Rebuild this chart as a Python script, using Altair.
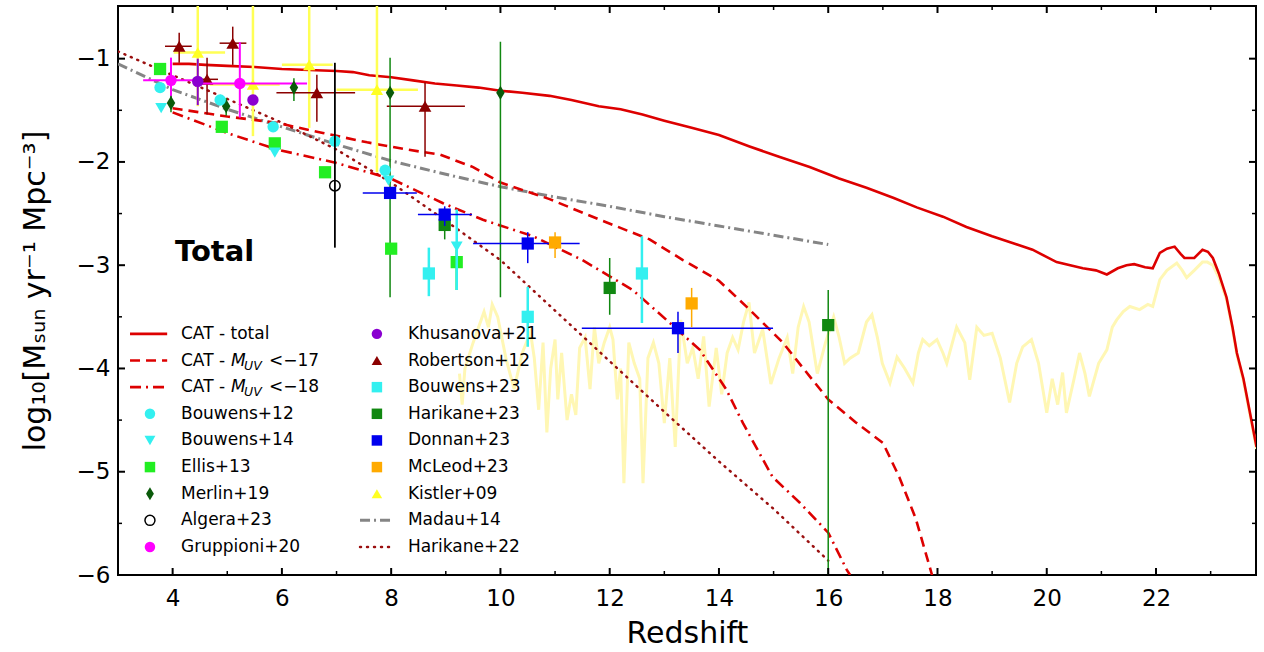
import altair as alt
import pandas as pd

# ---------------- axis ranges / ticks ----------------
X_DOMAIN = [3.0, 23.83]
Y_DOMAIN = [-6.0, -0.49]
X_MAJOR = [4, 6, 8, 10, 12, 14, 16, 18, 20, 22]
X_MINOR = [5, 7, 9, 11, 13, 15, 17, 19, 21, 23]
Y_MAJOR = [-6, -5, -4, -3, -2, -1]
Y_MINOR = [-5.5, -4.5, -3.5, -2.5, -1.5]

# ---------------- model curves ----------------
cat_total_z = [4.0, 4.3, 4.6, 5.0, 5.5, 6.0, 6.5, 7.0, 7.3, 7.6, 8.0, 8.4, 8.8, 9.2, 9.6, 10.0, 10.4, 10.9, 11.3, 11.8,
               12.2, 12.6, 13.0, 13.5, 14.0, 14.56, 15.1, 15.66, 16.2, 16.7, 17.2, 17.62, 18.1, 18.53, 19.0, 19.4,
               19.74, 20.18, 20.66, 20.9, 21.1, 21.3, 21.46, 21.6, 21.8, 21.94, 22.07, 22.2, 22.34, 22.45, 22.52,
               22.7, 22.85, 22.95, 23.04, 23.15, 23.29, 23.4, 23.48, 23.6, 23.84]
cat_total_sfr = [-1.05, -1.05, -1.06, -1.07, -1.08, -1.10, -1.11, -1.12, -1.13, -1.16, -1.18, -1.21, -1.24, -1.26,
                 -1.28, -1.31, -1.33, -1.36, -1.40, -1.46, -1.49, -1.54, -1.60, -1.67, -1.74, -1.85, -1.95, -2.05,
                 -2.16, -2.25, -2.35, -2.44, -2.53, -2.63, -2.72, -2.79, -2.85, -2.97, -3.03, -3.05, -3.09, -3.03,
                 -3.00, -2.99, -3.02, -3.03, -2.88, -2.84, -2.82, -2.89, -2.93, -2.93, -2.85, -2.87, -2.93, -3.08,
                 -3.31, -3.60, -3.85, -4.10, -4.76]

cat17_z = [4.0, 5.0, 5.9, 6.75, 7.56, 8.29, 8.9, 9.5, 10.0, 10.9, 11.82, 12.73, 13.34, 14.0, 14.56, 15.17, 15.5,
           16.0, 16.5, 17.0, 17.3, 17.6, 17.9]
cat17_sfr = [-1.48, -1.56, -1.62, -1.72, -1.81, -1.88, -1.93, -2.05, -2.20, -2.36, -2.56, -2.75, -2.95, -3.15,
             -3.43, -3.75, -3.97, -4.30, -4.52, -4.72, -5.05, -5.45, -6.0]

cat18_z = [4.0, 5.0, 5.91, 7.0, 8.03, 8.95, 9.68, 10.6, 11.5, 12.42, 13.04, 13.65, 14.13, 14.44, 14.98, 15.48,
           16.0, 16.34, 16.4]
cat18_sfr = [-1.52, -1.72, -1.88, -2.01, -2.17, -2.40, -2.56, -2.72, -2.95, -3.24, -3.53, -3.82, -4.20, -4.53,
             -5.05, -5.30, -5.59, -5.95, -6.0]

madau_z = [3, 4, 5, 6, 7, 8, 9, 10, 11, 12, 13, 14, 15, 16]
madau_sfr = [-1.05, -1.30, -1.49, -1.66, -1.83, -1.99, -2.12, -2.24, -2.34, -2.43, -2.53, -2.62, -2.71, -2.80]

hari22_z = [3, 4, 5, 6, 7, 8, 9, 10, 11, 12, 13, 14, 15, 16]
hari22_sfr = [-0.93, -1.16, -1.39, -1.62, -1.88, -2.20, -2.57, -2.95, -3.44, -3.93, -4.42, -4.90, -5.36, -5.86]

yellow_z = [9.25, 9.30, 9.35, 9.50, 9.70, 9.78, 9.85, 9.95, 10.10, 10.25, 10.40, 10.55, 10.62, 10.70, 10.78,
            10.85, 10.92, 11.00, 11.05, 11.12, 11.22, 11.30, 11.38, 11.45, 11.55, 11.64, 11.72, 11.80, 11.90,
            12.00, 12.06, 12.14, 12.20, 12.26, 12.35, 12.45, 12.55, 12.61, 12.70, 12.80, 12.90, 13.00, 13.10,
            13.20, 13.30, 13.42, 13.52, 13.62, 13.72, 13.82, 13.95, 14.05, 14.15, 14.25, 14.35, 14.45, 14.55,
            14.65, 14.80, 14.95, 15.10, 15.25, 15.35, 15.45, 15.55, 15.65, 15.80, 15.95, 16.10, 16.20, 16.30,
            16.40, 16.55, 16.70, 16.80, 16.90, 16.99, 17.13, 17.26, 17.40, 17.55, 17.65, 17.73, 17.85, 17.99,
            18.10, 18.17, 18.35, 18.50, 18.59, 18.72, 18.85, 19.00, 19.15, 19.32, 19.45, 19.56, 19.72, 19.85,
            20.00, 20.10, 20.20, 20.29, 20.36, 20.50, 20.60, 20.70, 20.78, 20.95, 21.10, 21.20, 21.28, 21.40,
            21.52, 21.70, 21.85, 21.94, 22.07, 22.20, 22.38, 22.48, 22.56, 22.70, 22.85, 22.94, 23.04, 23.15,
            23.29, 23.40, 23.48, 23.60, 23.84]
yellow_sfr = [-4.05, -4.35, -4.00, -3.75, -3.45, -3.60, -3.38, -3.50, -3.90, -4.20, -3.85, -3.65, -3.90, -4.40,
              -3.75, -4.62, -4.00, -3.72, -4.30, -3.85, -4.50, -4.25, -4.45, -3.80, -3.70, -4.20, -3.60, -3.95,
              -3.75, -3.60, -3.72, -4.30, -4.00, -5.11, -3.75, -3.95, -4.10, -5.11, -3.90, -3.75, -3.95, -4.53,
              -3.90, -4.76, -3.53, -3.95, -3.80, -4.10, -3.69, -4.37, -3.80, -4.25, -3.85, -3.70, -3.82, -3.55,
              -3.36, -3.85, -3.62, -4.15, -3.90, -3.70, -4.05, -3.60, -3.40, -3.55, -4.05, -3.75, -3.50, -3.70,
              -3.95, -3.90, -3.85, -3.55, -3.48, -3.70, -3.95, -4.14, -3.89, -4.00, -4.14, -3.85, -3.72, -3.78,
              -3.72, -3.85, -3.95, -3.60, -3.75, -4.11, -3.60, -3.68, -3.66, -3.90, -4.33, -3.95, -3.79, -3.72,
              -3.95, -4.43, -4.10, -4.35, -4.04, -4.43, -4.10, -3.85, -4.05, -4.27, -3.95, -3.82, -3.60, -3.53,
              -3.45, -3.40, -3.43, -3.38, -3.40, -3.14, -3.05, -2.98, -3.05, -3.12, -3.05, -2.97, -2.97, -3.00,
              -3.12, -3.33, -3.62, -3.87, -4.12, -4.78]

# ---------------- observational points ----------------
# each: z, sfr, z_lo, z_hi, sfr_lo, sfr_hi (None = no bar)
robertson12 = [(4.12, -0.88, 3.86, 4.35, -1.04, -0.75),
               (5.10, -0.85, 4.86, 5.35, -1.06, -0.69),
               (4.63, -1.20, 4.37, 4.83, -1.54, -0.99),
               (6.64, -1.33, 5.90, 7.34, -1.61, -1.155),
               (8.62, -1.46, 7.92, 9.35, -1.95, -1.23)]
kistler09 = [(4.46, -0.94, 4.02, 4.96, -1.46, -0.2),
             (5.47, -1.25, 4.68, 5.96, -1.75, -0.2),
             (6.50, -1.06, 6.00, 6.93, -1.67, -0.2),
             (7.74, -1.30, 7.00, 8.49, -2.10, -0.2)]
gruppioni20 = [(3.97, -1.21, 3.46, 4.46, -1.43, -0.99),
               (5.23, -1.24, 4.50, 6.46, -1.57, -0.84)]
khusanova21 = [(4.46, -1.22, None, None, -1.45, -1.00),
               (5.47, -1.40, None, None, None, None)]
merlin19 = [(3.97, -1.43, None, None, -1.52, -1.36),
            (4.98, -1.46, None, None, -1.55, -1.38),
            (6.22, -1.28, None, None, -1.41, -1.19),
            (7.98, -1.33, None, None, -3.31, -0.99),
            (10.00, -1.33, None, None, -3.31, -0.835)]
harikane23 = [(8.98, -2.61, None, None, -2.75, -2.49),
              (12.00, -3.22, None, None, -3.48, -2.93),
              (16.00, -3.58, None, None, -6.0, -3.24)]
ellis13 = [(3.77, -1.10, None, None, None, None),
           (4.90, -1.66, None, None, None, None),
           (5.87, -1.82, None, None, None, None),
           (6.79, -2.10, None, None, None, None),
           (8.00, -2.84, None, None, None, None),
           (9.20, -2.97, None, None, -3.24, -2.85)]
bouwens12 = [(3.77, -1.28, None, None, None, None),
             (4.87, -1.40, None, None, None, None),
             (5.84, -1.66, None, None, None, None),
             (6.97, -1.80, None, None, None, None),
             (7.89, -2.08, None, None, None, None)]
bouwens14 = [(3.79, -1.48, None, None, None, None),
             (5.87, -1.91, None, None, None, None),
             (7.95, -2.18, None, None, None, None),
             (9.20, -2.82, None, None, -3.24, -2.46)]
bouwens23 = [(8.69, -3.08, None, None, -3.30, -2.83),
             (10.50, -3.50, None, None, -3.79, -3.21),
             (12.59, -3.08, None, None, -3.56, -2.72)]
donnan23 = [(7.98, -2.30, 7.48, 8.47, None, None),
            (8.98, -2.51, 8.49, 9.48, -2.62, -2.43),
            (10.50, -2.79, 9.50, 11.45, -2.98, -2.68),
            (13.25, -3.61, 11.49, 14.99, -3.85, -3.45)]
mcleod23 = [(11.00, -2.78, None, None, -2.93, -2.68),
            (13.50, -3.37, None, None, -3.60, -3.22)]
algera23 = [(6.97, -2.23, None, None, -2.83, -1.04)]

# ---------------- legend ----------------
legend_left = ["CAT - total", "CAT - M_UV < −17", "CAT - M_UV < −18", "Bouwens+12", "Bouwens+14",
               "Ellis+13", "Merlin+19", "Algera+23", "Gruppioni+20"]
legend_right = ["Khusanova+21", "Robertson+12", "Bouwens+23", "Harikane+23", "Donnan+23", "McLeod+23",
                "Kistler+09", "Madau+14", "Harikane+22"]

Y_TITLE = "log\u2081\u2080[M\u209b\u1d64\u2099 yr\u207b\u00b9 Mpc\u207b\u00b3]"

FONT = "DejaVu Sans"
W, H = 1138, 569

X_AXIS = alt.Axis(values=X_MAJOR, format="d", title="Redshift", labelPadding=12, titlePadding=8,
                  ticks=False, domain=False, grid=False, labelFlush=False)
Y_AXIS = alt.Axis(values=Y_MAJOR, format="d", title=Y_TITLE, labelPadding=8, titlePadding=26,
                  ticks=False, domain=False, grid=False, labelFlush=False)
XS = alt.Scale(domain=X_DOMAIN, nice=False, zero=False)
YS = alt.Scale(domain=Y_DOMAIN, nice=False, zero=False)


def xe(f):
    return alt.X(f, type="quantitative", scale=XS, axis=X_AXIS)


def ye(f):
    return alt.Y(f, type="quantitative", scale=YS, axis=Y_AXIS)


def curve(z, s, color, width, dash=None, cap="butt", opacity=1.0):
    df = pd.DataFrame({"z": z, "s": s, "o": list(range(len(z)))})
    kw = dict(color=color, strokeWidth=width, clip=True, strokeCap=cap, opacity=opacity)
    if dash:
        kw["strokeDash"] = dash
    return alt.Chart(df).mark_line(**kw).encode(x=xe("z"), y=ye("s"), order="o:Q")


def points(rows, color, shape, size, bar_color=None, bar_width=1.5, filled=True, stroke_width=1.5):
    bc = bar_color or color
    df = pd.DataFrame(rows, columns=["z", "s", "zl", "zh", "sl", "sh"])
    layers = []
    dy = df.dropna(subset=["sl", "sh"])
    if len(dy):
        layers.append(alt.Chart(dy).mark_rule(color=bc, strokeWidth=bar_width, clip=True)
                      .encode(x=xe("z"), y=ye("sl"), y2="sh"))
    dx = df.dropna(subset=["zl", "zh"])
    if len(dx):
        layers.append(alt.Chart(dx).mark_rule(color=bc, strokeWidth=bar_width, clip=True)
                      .encode(x=xe("zl"), x2="zh", y=ye("s")))
    if filled:
        pm = alt.Chart(df).mark_point(filled=True, shape=shape, size=size, color=color, opacity=1,
                                      clip=True)
    else:
        pm = alt.Chart(df).mark_point(filled=False, shape=shape, size=size, color=color, opacity=1,
                                      strokeWidth=stroke_width, clip=True)
    layers.append(pm.encode(x=xe("z"), y=ye("s")))
    return layers


RED = "#dd0000"
DARKRED = "#8b0000"
DOTRED = "#9b1010"
GREY = "#858585"
CYAN = "#33f0f0"
LIME = "#22ee22"
GREEN = "#118811"
DKGREEN = "#0a5a0a"
BLUE = "#0000ee"
ORANGE = "#ffaa00"
YEL = "#ffff22"
MAG = "#ff00ff"
PURP = "#8a00d0"
THIN_DIAMOND = "M0,-1L0.6,0L0,1L-0.6,0Z"

layers = []
# model curves
layers.append(curve(yellow_z, yellow_sfr, "#fff7b4", 3.0))
layers.append(curve(madau_z, madau_sfr, GREY, 3.0, [10, 4, 2, 4]))
layers.append(curve(hari22_z, hari22_sfr, DOTRED, 2.5, [1, 6], "round"))
layers.append(curve(cat17_z, cat17_sfr, RED, 2.6, [10, 6]))
layers.append(curve(cat18_z, cat18_sfr, RED, 2.6, [11, 5, 2, 5]))
layers.append(curve(cat_total_z, cat_total_sfr, RED, 2.6))

# data points
layers += points(kistler09, YEL, "triangle-up", 150, bar_color="#ffff55", bar_width=2.5)
layers += points(robertson12, DARKRED, "triangle-up", 160, bar_width=1.5)
layers += points(gruppioni20, MAG, "circle", 130, bar_width=2)
layers += points(khusanova21, PURP, "circle", 130, bar_width=2)
layers += points(merlin19, DKGREEN, THIN_DIAMOND, 200, bar_color=GREEN, bar_width=1.5)
layers += points(ellis13, LIME, "square", 150, bar_width=2.5)
layers += points(bouwens12, CYAN, "circle", 130, bar_width=2.5)
layers += points(bouwens14, CYAN, "triangle-down", 140, bar_width=2.5)
layers += points(bouwens23, CYAN, "square", 150, bar_width=2.5)
layers += points(harikane23, GREEN, "square", 150, bar_width=1.5)
layers += points(algera23, "black", "circle", 110, bar_width=1.8, filled=False)
layers += points(donnan23, BLUE, "square", 150, bar_width=1.5)
layers += points(mcleod23, ORANGE, "square", 150, bar_width=1.5)


# frame ticks (inward)
def tick_layers():
    out = []
    for vals, L, sw in ((X_MAJOR, 7, 2), (X_MINOR, 4, 1.5)):
        d = pd.DataFrame({"v": vals})
        out.append(alt.Chart(d).mark_rule(color="black", strokeWidth=sw)
                   .encode(x=xe("v"), y=alt.value(H), y2=alt.value(H - L)))
        out.append(alt.Chart(d).mark_rule(color="black", strokeWidth=sw)
                   .encode(x=xe("v"), y=alt.value(0), y2=alt.value(L)))
    for vals, L, sw in ((Y_MAJOR, 7, 2), (Y_MINOR, 4, 1.5)):
        d = pd.DataFrame({"v": vals})
        out.append(alt.Chart(d).mark_rule(color="black", strokeWidth=sw)
                   .encode(y=ye("v"), x=alt.value(0), x2=alt.value(L)))
        out.append(alt.Chart(d).mark_rule(color="black", strokeWidth=sw)
                   .encode(y=ye("v"), x=alt.value(W), x2=alt.value(W - L)))
    return out


layers += tick_layers()

# "Total" label
one = pd.DataFrame({"a": [0]})
layers.append(alt.Chart(one).mark_text(text="Total", font=FONT, fontWeight="bold", fontSize=29,
                                       align="left", baseline="middle", color="black")
              .encode(x=alt.value(57), y=alt.value(246)))

# legend (placed in data units, rows by index)
LEG_Y0, LEG_DY = -3.665, 0.258
L_LINE, L_SYM, L_TXT = (3.22, 3.90), 3.585, 4.153
R_LINE, R_SYM, R_TXT = (7.43, 8.03), 7.739, 8.306


def rowy(i):
    return LEG_Y0 - i * LEG_DY


def leg_line(x0, x1, i, color, width, dash=None, cap="butt"):
    d = pd.DataFrame({"a": [x0], "b": [x1], "y": [rowy(i)]})
    kw = dict(color=color, strokeWidth=width, strokeCap=cap)
    if dash:
        kw["strokeDash"] = dash
    return alt.Chart(d).mark_rule(**kw).encode(x=xe("a"), x2="b", y=ye("y"))


def leg_sym(x, i, color, shape, size, filled=True):
    d = pd.DataFrame({"x": [x], "y": [rowy(i)]})
    if filled:
        m = alt.Chart(d).mark_point(filled=True, shape=shape, size=size, color=color, opacity=1)
    else:
        m = alt.Chart(d).mark_point(filled=False, shape=shape, size=size, color=color, opacity=1,
                                    strokeWidth=1.5)
    return m.encode(x=xe("x"), y=ye("y"))


def leg_text(x, i, txt, dx=0, dy=0, size=17, style="normal"):
    d = pd.DataFrame({"x": [x], "y": [rowy(i)], "t": [txt]})
    return alt.Chart(d).mark_text(font=FONT, fontSize=size, fontStyle=style, align="left",
                                  baseline="middle", color="black", dx=dx, dy=dy).encode(
        x=xe("x"), y=ye("y"), text="t:N")


layers.append(leg_line(*L_LINE, 0, RED, 2.6))
layers.append(leg_line(*L_LINE, 1, RED, 2.6, [10, 6]))
layers.append(leg_line(*L_LINE, 2, RED, 2.6, [11, 5, 2, 5]))
layers.append(leg_sym(L_SYM, 3, CYAN, "circle", 110))
layers.append(leg_sym(L_SYM, 4, CYAN, "triangle-down", 120))
layers.append(leg_sym(L_SYM, 5, LIME, "square", 110))
layers.append(leg_sym(L_SYM, 6, DKGREEN, THIN_DIAMOND, 170))
layers.append(leg_sym(L_SYM, 7, "black", "circle", 100, filled=False))
layers.append(leg_sym(L_SYM, 8, MAG, "circle", 110))

layers.append(leg_sym(R_SYM, 0, PURP, "circle", 110))
layers.append(leg_sym(R_SYM, 1, DARKRED, "triangle-up", 110))
layers.append(leg_sym(R_SYM, 2, CYAN, "square", 110))
layers.append(leg_sym(R_SYM, 3, GREEN, "square", 110))
layers.append(leg_sym(R_SYM, 4, BLUE, "square", 110))
layers.append(leg_sym(R_SYM, 5, ORANGE, "square", 110))
layers.append(leg_sym(R_SYM, 6, YEL, "triangle-up", 110))
layers.append(leg_line(*R_LINE, 7, GREY, 3.0, [10, 4, 2, 4]))
layers.append(leg_line(*R_LINE, 8, DOTRED, 2.5, [1, 6], "round"))

for i, lab in enumerate(legend_left):
    if "M_UV" in lab:
        head, tail = lab.split("M_UV")
        layers.append(leg_text(L_TXT, i, head.strip()))
        layers.append(leg_text(L_TXT, i, "M", dx=50, style="italic"))
        layers.append(leg_text(L_TXT, i, "UV", dx=63, dy=5, size=12.5, style="italic"))
        layers.append(leg_text(L_TXT, i, tail.strip().replace(" ", ""), dx=88))
    else:
        layers.append(leg_text(L_TXT, i, lab))
for i, lab in enumerate(legend_right):
    layers.append(leg_text(R_TXT, i, lab))

chart = alt.layer(*layers).properties(
    width=W, height=H,
    padding={"left": 118, "top": 6, "right": 8, "bottom": 77},
    autosize=alt.AutoSizeParams(type="none"),
    background="white",
).configure(font=FONT).configure_view(stroke="black", strokeWidth=2).configure_axis(
    labelFont=FONT, titleFont=FONT, labelFontSize=23, titleFontSize=30, titleFontWeight="normal",
    labelColor="black", titleColor="black")

chart.save("out.html", embed_options={"renderer": "svg", "actions": False})
